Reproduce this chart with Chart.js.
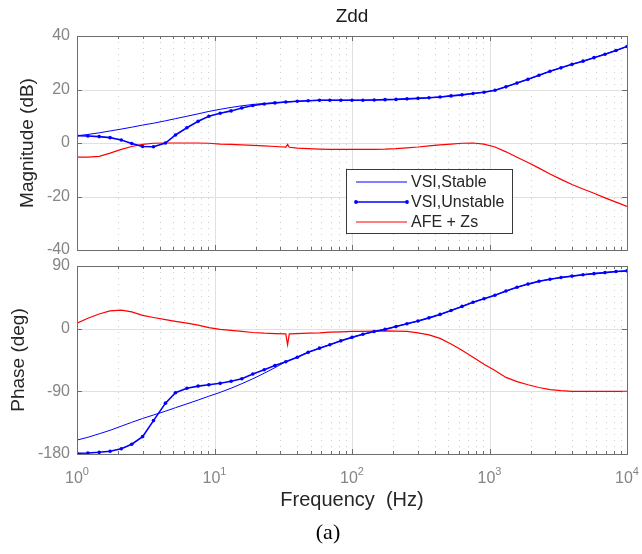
<!DOCTYPE html>
<html>
<head>
<meta charset="utf-8">
<script src="https://cdn.jsdelivr.net/npm/chart.js@4.4.1/dist/chart.umd.min.js"></script>
<style>
	body { margin: 0; background: #ffffff; }
	#wrap { position: relative; width: 642px; height: 554px; }
	#wrap canvas { position: absolute; left: 0; top: 0; }
</style>
</head>
<body>
<div id="wrap">
	<canvas id="bode-mag" width="642" height="554"></canvas>
	<canvas id="bode-phase" width="642" height="554"></canvas>
</div>
<script>
//DATA
var freqVSI = [1, 1.2, 1.45, 1.74, 2.1, 2.5, 3.0, 3.6, 4.4, 5.2,
	6.3, 7.6, 9.1, 11, 13.2, 15.8, 19, 23, 27.5, 33,
	40, 48, 58, 69, 83, 100, 120, 145, 174, 209,
	251, 302, 363, 437, 525, 631, 759, 912, 1096, 1318,
	1585, 1905, 2291, 2754, 3311, 3981, 4786, 5754, 6918, 8318,
	10000];

var magStable = [2.7, 3.2, 3.8, 4.5, 5.2, 5.9, 6.7, 7.4, 8.3, 9.1,
	10.0, 10.9, 11.8, 12.6, 13.3, 13.9, 14.4, 14.8, 15.0, 15.3,
	15.6, 15.8, 16.0, 16.0, 16.0, 16.0, 16.0, 16.1, 16.2, 16.3,
	16.5, 16.7, 16.9, 17.2, 17.6, 18.0, 18.5, 19.0, 19.7, 21.0,
	22.4, 23.8, 25.3, 26.8, 28.1, 29.4, 30.6, 31.9, 33.2, 34.6,
	36.1];

var magUnstable = [2.7, 2.6, 2.4, 2.0, 1.1, -0.2, -1.3, -1.4, 0.0, 3.0,
	5.7, 8.1, 10.0, 11.1, 12.0, 13.1, 14.0, 14.6, 15.0, 15.3,
	15.6, 15.8, 16.0, 16.0, 16.0, 16.0, 16.0, 16.1, 16.2, 16.3,
	16.5, 16.7, 16.9, 17.2, 17.6, 18.0, 18.5, 19.0, 19.7, 21.0,
	22.4, 23.8, 25.3, 26.8, 28.1, 29.4, 30.6, 31.9, 33.2, 34.6,
	36.1];

var phaseStable = [-160, -156, -151, -146, -140, -134.5, -129, -124, -118.5, -113.5,
	-108, -102.5, -97, -91.5, -85.5, -79, -72, -64, -56, -47.5,
	-41, -34, -28, -23, -17.5, -12.5, -8, -4, -1, 3,
	7, 11, 15.5, 20.5, 26, 32, 38, 43, 48, 54,
	59.5, 64, 68, 71, 73.5, 75.5, 77.5, 79, 80.5, 82,
	83];

var phaseUnstable = [-179, -178.5, -177.5, -176, -172.5, -166, -155, -132, -107, -92,
	-85.5, -82.5, -80.5, -78.5, -75.5, -72, -65, -59, -53, -47.5,
	-41, -34, -28, -23, -17.5, -12.5, -8, -4, -1, 3,
	7, 11, 15.5, 20.5, 26, 32, 38, 43, 48, 54,
	59.5, 64, 68, 71, 73.5, 75.5, 77.5, 79, 80.5, 82,
	83];

// AFE + Zs has a small glitch near 34 Hz
var freqAFE = [1, 1.2, 1.45, 1.74, 2.1, 2.5, 3.0, 3.6, 4.4, 5.2,
	6.3, 7.6, 9.1, 11, 13.2, 15.8, 19, 23, 27.5, 33, 34, 35,
	40, 48, 58, 69, 83, 100, 120, 145, 174, 209,
	251, 302, 363, 437, 525, 631, 759, 912, 1096, 1318,
	1585, 1905, 2291, 2754, 3311, 3981, 4786, 5754, 6918, 8318,
	10000];

var magAFE = [-5.3, -5.3, -5.0, -3.8, -2.4, -1.3, -0.5, -0.1, 0.0, 0.0,
	0.0, 0.0, -0.1, -0.4, -0.5, -0.7, -0.9, -1.1, -1.3, -1.5, -0.5, -1.6,
	-1.9, -2.1, -2.3, -2.4, -2.4, -2.4, -2.4, -2.4, -2.3, -2.1,
	-1.8, -1.5, -1.1, -0.7, -0.4, -0.1, 0.0, -0.4, -1.5, -3.3,
	-5.3, -7.3, -9.4, -11.6, -13.6, -15.5, -17.2, -18.8, -20.5, -22.1,
	-23.7];

var phaseAFE = [8, 15, 21, 25.5, 26.5, 24, 19, 16, 13, 10.5,
	8, 5, 1.5, -1, -2.5, -4, -5.5, -6.5, -7, -7.5, -23, -7.5,
	-7, -6.5, -6, -5, -4.5, -4, -3.8, -3.5, -3.3, -3.5,
	-4, -6, -9, -14, -22, -31, -41, -51, -60, -70,
	-76, -80.5, -84.5, -87.5, -89, -90, -90, -90, -90, -90,
	-90];

var magTicks = [-40, -20, 0, 20, 40];
var phaseTicks = [-180, -90, 0, 90];
var decades = [0, 1, 2, 3, 4];

var legendNames = ['VSI,Stable', 'VSI,Unstable', 'AFE + Zs'];

//STYLE
var FONT = "'Liberation Sans', Arial, Helvetica, sans-serif";
var BLUE = '#0000ff';
var RED = '#ff0000';
var AXIS_COLOR = '#6e6e6e';
var TICK_TEXT = '#858585';
var LABEL_TEXT = '#262626';

function pts(xs, ys){
	var out = new Array();
	for(var i=0;i<xs.length;i++){
		out[i] = {x: xs[i], y: ys[i]};
	}
	return out;
}

function seg(ctx, x1, y1, x2, y2){
	ctx.beginPath();
	ctx.moveTo(x1, y1);
	ctx.lineTo(x2, y2);
	ctx.stroke();
}

// MATLAB style grid: solid major lines, dotted minor lines per decade
var bodeGrid = {
	id: 'bodeGrid',
	beforeDatasetsDraw: function(chart, args, opts){
		var ctx = chart.ctx;
		var a = chart.chartArea;
		var xs = chart.scales.x;
		var ys = chart.scales.y;
		var i, k, px, py;

		ctx.save();
		ctx.lineWidth = 1;

		ctx.strokeStyle = '#cdcdcd';
		ctx.setLineDash([1, 5]);
		for(i=0;i<decades.length-1;i++){
			for(k=2;k<=9;k++){
				px = Math.round(xs.getPixelForValue(k * Math.pow(10, decades[i]))) + 0.5;
				seg(ctx, px, a.top, px, a.bottom);
			}
		}

		ctx.setLineDash([]);
		ctx.strokeStyle = '#e0e0e0';
		for(i=0;i<decades.length;i++){
			px = Math.round(xs.getPixelForValue(Math.pow(10, decades[i]))) + 0.5;
			seg(ctx, px, a.top, px, a.bottom);
		}
		for(i=0;i<opts.yTicks.length;i++){
			py = Math.round(ys.getPixelForValue(opts.yTicks[i])) + 0.5;
			seg(ctx, a.left, py, a.right, py);
		}
		ctx.restore();
	},
	afterDatasetsDraw: function(chart, args, opts){
		var ctx = chart.ctx;
		var a = chart.chartArea;
		var xs = chart.scales.x;
		var ys = chart.scales.y;
		var i, k, px, py, len;

		ctx.save();
		ctx.strokeStyle = AXIS_COLOR;
		ctx.lineWidth = 1;

		// inner tick marks on all four sides
		for(i=0;i<decades.length;i++){
			for(k=1;k<=9;k++){
				if(i == decades.length-1 && k > 1) break;
				px = Math.round(xs.getPixelForValue(k * Math.pow(10, decades[i]))) + 0.5;
				len = (k == 1) ? 5 : 3;
				seg(ctx, px, a.bottom, px, a.bottom - len);
				seg(ctx, px, a.top, px, a.top + len);
			}
		}
		for(i=0;i<opts.yTicks.length;i++){
			py = Math.round(ys.getPixelForValue(opts.yTicks[i])) + 0.5;
			seg(ctx, a.left, py, a.left + 5, py);
			seg(ctx, a.right, py, a.right - 5, py);
		}

		ctx.strokeRect(Math.round(a.left) + 0.5, Math.round(a.top) + 0.5,
			Math.round(a.right - a.left), Math.round(a.bottom - a.top));
		ctx.restore();
	}
};

// legend box sitting inside the magnitude axes
var bodeLegend = {
	id: 'bodeLegend',
	afterDraw: function(chart, args, opts){
		if(!opts.show) return;
		var ctx = chart.ctx;
		var x0 = 346, y0 = 169, w = 166, h = 64;
		var colors = [BLUE, BLUE, RED];

		ctx.save();
		ctx.fillStyle = '#ffffff';
		ctx.fillRect(x0, y0, w, h);
		ctx.strokeStyle = '#3a3a3a';
		ctx.lineWidth = 1;
		ctx.strokeRect(x0 + 0.5, y0 + 0.5, w, h);

		ctx.font = '16px ' + FONT;
		ctx.textAlign = 'left';
		ctx.textBaseline = 'middle';
		for(var i=0;i<legendNames.length;i++){
			var ry = y0 + 13 + i * 20;
			ctx.strokeStyle = colors[i];
			ctx.lineWidth = (i == 1) ? 1.6 : 1.2;
			seg(ctx, x0 + 10, ry, x0 + 61, ry);
			if(i == 1){
				ctx.fillStyle = BLUE;
				ctx.beginPath(); ctx.arc(x0 + 10, ry, 1.9, 0, Math.PI * 2); ctx.fill();
				ctx.beginPath(); ctx.arc(x0 + 61, ry, 1.9, 0, Math.PI * 2); ctx.fill();
			}
			ctx.fillStyle = LABEL_TEXT;
			ctx.fillText(legendNames[i], x0 + 65, ry + 1);
		}
		ctx.restore();
	}
};

// decade labels 10^n under the phase axes, plus the figure caption
var bodeDecades = {
	id: 'bodeDecades',
	afterDraw: function(chart, args, opts){
		if(!opts.show) return;
		var ctx = chart.ctx;
		var xs = chart.scales.x;
		var a = chart.chartArea;

		ctx.save();
		ctx.fillStyle = TICK_TEXT;
		ctx.textBaseline = 'alphabetic';
		ctx.textAlign = 'left';
		for(var i=0;i<decades.length;i++){
			var px = xs.getPixelForValue(Math.pow(10, decades[i]));
			ctx.font = '16px ' + FONT;
			var wBase = ctx.measureText('10').width;
			ctx.font = '11px ' + FONT;
			var wExp = ctx.measureText(String(decades[i])).width;
			var start = px - (wBase + wExp) / 2;
			ctx.font = '16px ' + FONT;
			ctx.fillText('10', start, a.bottom + 29);
			ctx.font = '11px ' + FONT;
			ctx.fillText(String(decades[i]), start + wBase, a.bottom + 21);
		}

		ctx.fillStyle = '#000000';
		ctx.font = "22px 'Liberation Serif', 'Times New Roman', serif";
		ctx.textAlign = 'center';
		ctx.textBaseline = 'middle';
		ctx.fillText('(a)', 328, 533);
		ctx.restore();
	}
};

function makeSets(magOrPhase){
	var s, u, r;
	if(magOrPhase == 'mag'){ s = magStable; u = magUnstable; r = magAFE; }
	else { s = phaseStable; u = phaseUnstable; r = phaseAFE; }
	return [{
		label: 'VSI,Unstable',
		data: pts(freqVSI, u),
		borderColor: BLUE,
		borderWidth: 1.6,
		pointRadius: 1.8,
		pointBackgroundColor: BLUE,
		pointBorderWidth: 0
	}, {
		label: 'VSI,Stable',
		data: pts(freqVSI, s),
		borderColor: BLUE,
		borderWidth: 1,
		pointRadius: 0
	}, {
		label: 'AFE + Zs',
		data: pts(freqAFE, r),
		borderColor: RED,
		borderWidth: 1.2,
		pointRadius: 0
	}];
}

Chart.register(bodeGrid, bodeLegend, bodeDecades);

//MAGNITUDE
new Chart(document.getElementById('bode-mag'), {
	type: 'line',
	data: { datasets: makeSets('mag') },
	options: {
		responsive: false,
		animation: false,
		events: [],
		layout: { padding: { left: 0, right: 15, top: 0, bottom: 304 } },
		scales: {
			x: {
				type: 'logarithmic', min: 1, max: 10000,
				grid: { display: false, drawTicks: false },
				border: { display: false },
				ticks: { display: false },
				afterFit: function(s){ s.height = 0; }
			},
			y: {
				min: -40, max: 40,
				afterBuildTicks: function(s){ s.ticks = magTicks.map(function(v){ return {value: v}; }); },
				grid: { display: false, drawTicks: false },
				border: { display: false },
				ticks: { color: TICK_TEXT, font: { family: FONT, size: 16 }, padding: 7 },
				title: { display: true, text: 'Magnitude (dB)', color: LABEL_TEXT,
					font: { family: FONT, size: 19 }, padding: { top: 16.5, bottom: 0 } },
				afterFit: function(s){ s.width = 77; }
			}
		},
		plugins: {
			legend: { display: false },
			tooltip: { enabled: false },
			title: {
				display: true, text: 'Zdd', fullSize: false, color: '#1a1a1a',
				font: { family: FONT, size: 19, weight: 'normal' },
				padding: { top: 5, bottom: 8.2 }
			},
			bodeGrid: { yTicks: magTicks },
			bodeLegend: { show: true },
			bodeDecades: { show: false }
		}
	}
});

//PHASE
new Chart(document.getElementById('bode-phase'), {
	type: 'line',
	data: { datasets: makeSets('phase') },
	options: {
		responsive: false,
		animation: false,
		events: [],
		layout: { padding: { left: 0, right: 15, top: 266, bottom: 40 } },
		scales: {
			x: {
				type: 'logarithmic', min: 1, max: 10000,
				grid: { display: false, drawTicks: false },
				border: { display: false },
				ticks: { display: false },
				title: { display: true, text: 'Frequency  (Hz)', color: LABEL_TEXT,
					font: { family: FONT, size: 20 }, padding: { top: 0, bottom: 1.5 } },
				afterFit: function(s){ s.height = 60; }
			},
			y: {
				min: -180, max: 90,
				afterBuildTicks: function(s){ s.ticks = phaseTicks.map(function(v){ return {value: v}; }); },
				grid: { display: false, drawTicks: false },
				border: { display: false },
				ticks: { color: TICK_TEXT, font: { family: FONT, size: 16 }, padding: 7 },
				title: { display: true, text: 'Phase (deg)', color: LABEL_TEXT,
					font: { family: FONT, size: 19 }, padding: { top: 7.8, bottom: 0 } },
				afterFit: function(s){ s.width = 77; }
			}
		},
		plugins: {
			legend: { display: false },
			tooltip: { enabled: false },
			title: { display: false },
			bodeGrid: { yTicks: phaseTicks },
			bodeLegend: { show: false },
			bodeDecades: { show: true }
		}
	}
});
</script>
</body>
</html>
